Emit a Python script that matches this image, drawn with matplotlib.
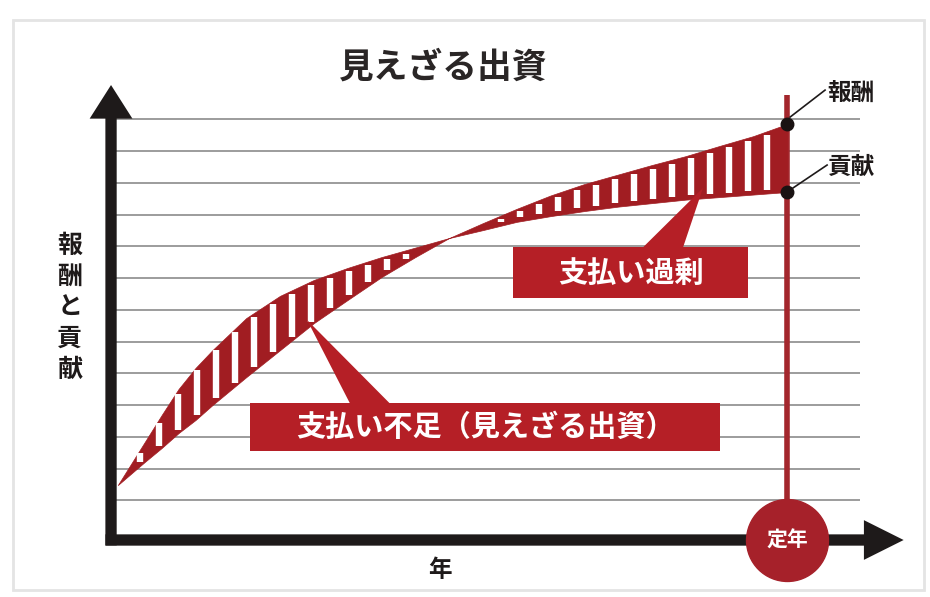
import numpy as np
import matplotlib
matplotlib.use("Agg")
import matplotlib.pyplot as plt
from matplotlib.patches import FancyArrowPatch, Polygon, Rectangle

plt.rcParams['font.family'] = ['Noto Sans CJK JP', 'DejaVu Sans']

# data (years worked vs. level)
years = [0.4, 2, 3, 4, 5, 6, 8, 10, 12, 14, 16, 18, 20, 22, 24, 26, 28, 30,
         32, 34, 36, 38, 40]
contribution = [1.73, 3.09, 3.94, 4.76, 5.42, 5.98, 6.99, 7.69, 8.19, 8.57, 8.91,
                9.21, 9.51, 9.76, 10.02, 10.20, 10.36, 10.50, 10.61, 10.72, 10.80,
                10.88, 10.96]
reward = [1.73, 2.46, 2.90, 3.37, 3.78, 4.25, 5.13, 5.98, 6.83, 7.56, 8.28, 8.91,
          9.51, 9.98, 10.43, 10.85, 11.21, 11.51, 11.81, 12.09, 12.41, 12.72, 13.10]
grid_levels = [1.25, 2.25, 3.25, 4.25, 5.25, 6.25, 7.25, 8.25, 9.25, 10.25,
               11.25, 12.25, 13.25]
retire_year = 40

title = "見えざる出資"
ylabel = "報酬と貢献"
xlabel = "年"
label_short = "支払い不足（見えざる出資）"
label_over = "支払い過剰"

band_red = '#a11d22'
box_red = '#b51f26'
dark = '#1e1a1a'

fig = plt.figure(figsize=(9.3, 5.97), dpi=100)
ax = fig.add_axes([0, 0, 1, 1])
ax.set_xlim(-6.57, 48.46)
ax.set_ylim(-1.795, 17.008)
ax.axis('off')

# faint outer frame
fig.patches.append(Rectangle((0.014, 0.012), 0.98, 0.955, transform=fig.transFigure,
                             fill=False, edgecolor='#e4e4e4', lw=2))

# grid lines
ax.hlines(grid_levels, 0, 44.3, color='#9c9c9c', lw=1.4, zorder=1)

# band between the two curves
x = np.array(years)
c = np.array(contribution)
r = np.array(reward)
ax.fill_between(x, c, r, color=band_red, lw=0.5, edgecolor=band_red, zorder=3)

# white vertical stripes inside the band
stripe_x = np.arange(1.72, 39.0, 1.124)
lo = np.minimum(np.interp(stripe_x, x, c), np.interp(stripe_x, x, r))
hi = np.maximum(np.interp(stripe_x, x, c), np.interp(stripe_x, x, r))
inset = 0.12
keep = (hi - lo) > 2 * inset + 0.05
ax.vlines(stripe_x[keep], lo[keep] + inset, hi[keep] - inset, color='white',
          lw=4.6, zorder=4, capstyle='butt')

# axes with arrows
ax.add_patch(FancyArrowPatch((-0.33, 0), (46.9, 0), arrowstyle='simple,head_length=1.3,head_width=1.3,tail_width=0.37',
                             mutation_scale=22, color=dark, lw=0, shrinkA=0, shrinkB=0, zorder=5))
ax.add_patch(FancyArrowPatch((0, -0.17), (0, 14.33), arrowstyle='simple,head_length=1.1,head_width=1.4,tail_width=0.37',
                             mutation_scale=22, color=dark, lw=0, shrinkA=0, shrinkB=0, zorder=5))

# retirement line and marker
ax.vlines(retire_year, 0, 14.02, color='#a3262c', lw=4, zorder=2)
ax.plot([retire_year], [0], 'o', ms=59, color='#a6212a', mec='#a6212a', zorder=6)
ax.text(retire_year, 0, "定年", color='white', fontsize=15, fontweight='bold',
        ha='center', va='center', zorder=7)

# end points
ax.plot([retire_year, retire_year], [reward[-1], contribution[-1]], 'o', ms=9,
        color='#1a1212', zorder=6)
ax.plot([40.18, 42.25], [13.32, 14.17], color=dark, lw=1.2, zorder=6)
ax.plot([40.36, 42.37], [11.09, 11.81], color=dark, lw=1.2, zorder=6)
ax.text(42.37, 14.1, "報酬", fontsize=17, fontweight='bold', color=dark,
        ha='left', va='center')
ax.text(42.37, 11.75, "貢献", fontsize=17, fontweight='bold', color=dark,
        ha='left', va='center')

# callouts
ax.add_patch(Rectangle((8.22, 2.80), 36.04 - 8.22, 4.31 - 2.80, color=box_red, lw=0, zorder=6))
ax.add_patch(Polygon([(11.6, 6.93), (14.14, 4.3), (16.5, 4.3)], closed=True,
                     color=box_red, lw=0, zorder=6))
ax.text(22.13, 3.56, label_short, color='white', fontsize=21, fontweight='bold',
        ha='center', va='center', zorder=7)

ax.add_patch(Rectangle((23.8, 7.62), 37.7 - 23.8, 9.23 - 7.62, color=box_red, lw=0, zorder=6))
ax.add_patch(Polygon([(35.03, 11.09), (31.48, 9.22), (33.85, 9.22)], closed=True,
                     color=box_red, lw=0, zorder=6))
ax.text(30.75, 8.42, label_over, color='white', fontsize=21, fontweight='bold',
        ha='center', va='center', zorder=7)

# titles
ax.text(19.65, 14.9, title, fontsize=25, fontweight='bold', color='#2a2626',
        ha='center', va='center')
for i, ch in enumerate(ylabel):
    ax.text(-2.43, 9.26 - i * 0.977, ch, fontsize=18, fontweight='bold', color=dark,
            ha='center', va='center')
ax.text(19.47, -0.95, xlabel, fontsize=17, fontweight='bold', color=dark,
        ha='center', va='center')

fig.savefig("out.png", dpi=100, facecolor='white')
